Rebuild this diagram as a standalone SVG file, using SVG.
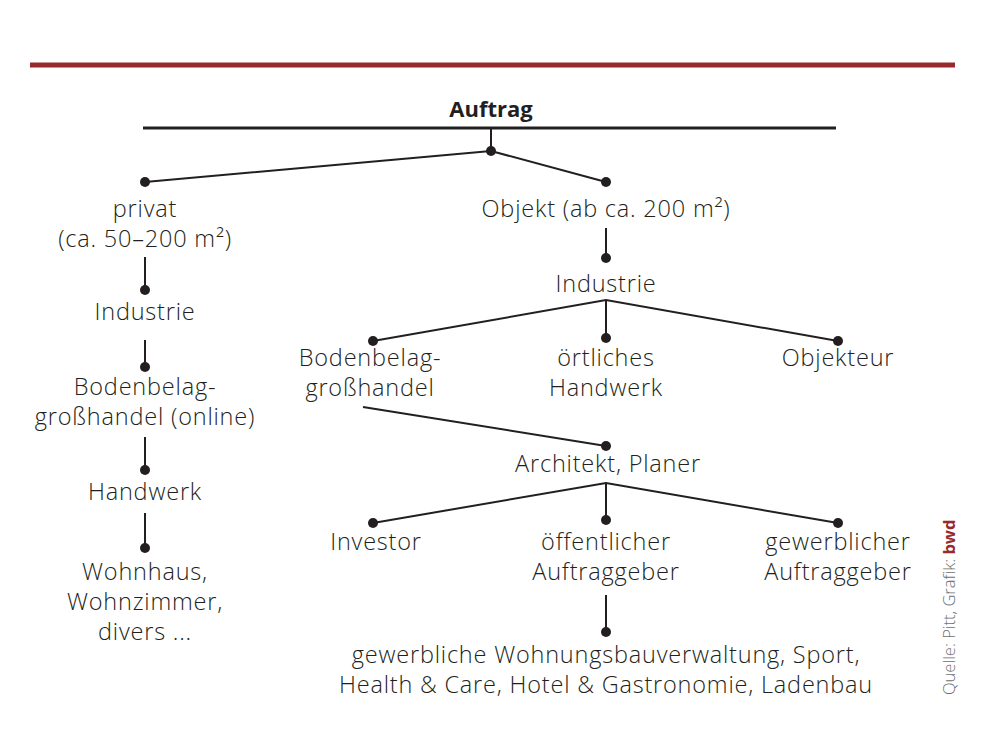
<svg xmlns="http://www.w3.org/2000/svg" width="1000" height="750" viewBox="0 0 1000 750">
<style>
.t{font-family:"Open Sans",Lato,"Liberation Sans",sans-serif;font-weight:300;font-size:23.5px;letter-spacing:0.8px;fill:#231f20;text-anchor:middle}
.b{font-family:"Open Sans",Lato,"Liberation Sans",sans-serif;font-weight:700;font-size:22px;fill:#231f20;text-anchor:middle}
.c{stroke:#231f20;stroke-width:2;fill:none}
.d{fill:#231f20}
.src{font-family:"Open Sans",Lato,"Liberation Sans",sans-serif;font-weight:300;font-size:16.5px;fill:#6d6e71}
</style>
<rect width="1000" height="750" fill="#fff"/>
<rect x="30" y="62.5" width="925" height="5" fill="#962a2c"/>
<g id="connectors">
<line x1="143" y1="128" x2="836" y2="128" stroke="#231f20" stroke-width="3"/>
<path class="c" d="M491 128V151M491 151L145 182M491 151L606 182"/>
<path class="c" d="M145 257V290M145 340V367M145 437V470M145 513V548"/>
<path class="c" d="M606 228V258M373 341L606 300L838 341M606 300V338"/>
<path class="c" d="M363 407L606 446M373 523L606 483L838 523M606 483V520M606 595V632"/>
<g class="d">
<circle cx="491" cy="151" r="5"/><circle cx="145" cy="182" r="5"/><circle cx="606" cy="182" r="5"/>
<circle cx="145" cy="290" r="5"/><circle cx="145" cy="367" r="5"/><circle cx="145" cy="470" r="5"/><circle cx="145" cy="548" r="5"/>
<circle cx="606" cy="258" r="5"/><circle cx="373" cy="341" r="5"/><circle cx="606" cy="338" r="5"/><circle cx="838" cy="341" r="5"/>
<circle cx="606" cy="446" r="5"/><circle cx="373" cy="523" r="5"/><circle cx="606" cy="520" r="5"/><circle cx="838" cy="523" r="5"/><circle cx="606" cy="632" r="5"/>
</g>
</g>
<g id="auftrag"><text class="b" x="491" y="117">Auftrag</text></g>
<g id="privat"><text class="t" x="145" y="217">privat</text><text class="t" x="145" y="247">(ca. 50–200 m²)</text></g>
<g id="p-industrie"><text class="t" x="145" y="320">Industrie</text></g>
<g id="p-grosshandel"><text class="t" x="145" y="395">Bodenbelag-</text><text class="t" x="145" y="425">großhandel (online)</text></g>
<g id="p-handwerk"><text class="t" x="145" y="500">Handwerk</text></g>
<g id="p-wohnhaus"><text class="t" x="145" y="580">Wohnhaus,</text><text class="t" x="145" y="610">Wohnzimmer,</text><text class="t" x="145" y="640">divers ...</text></g>
<g id="objekt"><text class="t" x="606" y="217">Objekt (ab ca. 200 m²)</text></g>
<g id="o-industrie"><text class="t" x="606" y="292">Industrie</text></g>
<g id="o-grosshandel"><text class="t" x="370" y="366">Bodenbelag-</text><text class="t" x="370" y="396">großhandel</text></g>
<g id="o-handwerk"><text class="t" x="606" y="366">örtliches</text><text class="t" x="606" y="396">Handwerk</text></g>
<g id="o-objekteur"><text class="t" x="838" y="366">Objekteur</text></g>
<g id="architekt"><text class="t" x="608" y="472">Architekt, Planer</text></g>
<g id="investor"><text class="t" x="376" y="550">Investor</text></g>
<g id="oeffentlich"><text class="t" x="606" y="550">öffentlicher</text><text class="t" x="606" y="580">Auftraggeber</text></g>
<g id="gewerblich"><text class="t" x="838" y="550">gewerblicher</text><text class="t" x="838" y="580">Auftraggeber</text></g>
<g id="bereiche"><text class="t" x="606" y="663">gewerbliche Wohnungsbauverwaltung, Sport,</text><text class="t" x="606" y="693">Health &amp; Care, Hotel &amp; Gastronomie, Ladenbau</text></g>
<g id="quelle"><text class="src" transform="translate(955,695) rotate(-90)">Quelle: Pitt, Grafik: <tspan font-weight="700" fill="#962a2c">bwd</tspan></text></g>
</svg>
